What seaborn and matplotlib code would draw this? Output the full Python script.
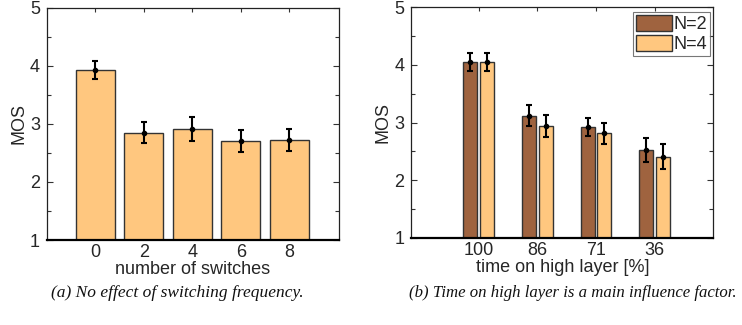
import numpy as np
import pandas as pd
import matplotlib
matplotlib.use("Agg")
import matplotlib.pyplot as plt
from matplotlib.ticker import MultipleLocator
import seaborn as sns

# (a) MOS versus number of switches
switches = ["0", "2", "4", "6", "8"]
mos_switch = [3.93, 2.85, 2.91, 2.71, 2.73]
ci_switch = [0.16, 0.18, 0.20, 0.19, 0.19]

# (b) MOS versus time on high layer, for N=2 and N=4
time_high = ["100", "86", "71", "36"]
groups = ["N=2", "N=4"]
mos_n2 = [4.05, 3.12, 2.92, 2.52]
ci_n2 = [0.15, 0.18, 0.16, 0.21]
mos_n4 = [4.05, 2.94, 2.81, 2.41]
ci_n4 = [0.15, 0.19, 0.19, 0.22]

light = "#FFC77F"
brown = "#9F633F"

sns.set_theme(style="white")
plt.rcParams["font.family"] = ["Liberation Sans", "DejaVu Sans"]

fig = plt.figure(figsize=(7.42, 3.25), dpi=100)
ax1 = fig.add_axes([0.0633, 0.2615, 0.3936, 0.7148])
ax2 = fig.add_axes([0.5543, 0.2686, 0.4070, 0.7086])

df1 = pd.DataFrame({"switches": switches, "MOS": mos_switch})
sns.barplot(data=df1, x="switches", y="MOS", color=light, saturation=1,
            width=0.8, errorbar=None, edgecolor="#333333", linewidth=1.0, ax=ax1)
ax1.errorbar(range(len(switches)), mos_switch, yerr=ci_switch, fmt="o",
             color="black", ms=3, elinewidth=1.5, capsize=2.5, capthick=1.5)
ax1.set_xlim(-1, 5.03)

df2 = pd.DataFrame({
    "time": time_high * 2,
    "group": [groups[0]] * len(time_high) + [groups[1]] * len(time_high),
    "MOS": mos_n2 + mos_n4,
})
sns.barplot(data=df2, x="time", y="MOS", hue="group", hue_order=groups,
            palette=[brown, light], saturation=1, width=0.57, gap=0.15,
            errorbar=None, edgecolor="#333333", linewidth=1.0, ax=ax2)
# error bars placed at the centres of the drawn bars
bars = [p for p in ax2.patches if p.get_height() > 0][: 2 * len(time_high)]
for p, m, c in zip(bars, mos_n2 + mos_n4, ci_n2 + ci_n4):
    ax2.errorbar(p.get_x() + p.get_width() / 2, m, yerr=c, fmt="o",
                 color="black", ms=3, elinewidth=1.5, capsize=2.5, capthick=1.5)
ax2.set_xlim(-1.15, 4.0)

leg = ax2.legend(loc="upper right", frameon=True, fancybox=False,
                 handlelength=1.95, handleheight=0.95, handletextpad=0.08,
                 borderpad=0.18, labelspacing=0.08, borderaxespad=0.0,
                 fontsize=13, bbox_to_anchor=(0.989, 0.979))
leg.get_frame().set_edgecolor("#555555")
leg.get_frame().set_linewidth(0.8)

for ax, xl in [(ax1, "number of switches"), (ax2, "time on high layer [%]")]:
    ax.set_ylim(1, 5)
    ax.yaxis.set_major_locator(MultipleLocator(1))
    ax.yaxis.set_minor_locator(MultipleLocator(0.5))
    ax.set_ylabel("MOS", fontsize=13, labelpad=2)
    ax.set_xlabel(xl, fontsize=13, labelpad=0)
    ax.tick_params(axis="both", which="both", direction="in",
                   left=True, right=True, top=True, bottom=False,
                   labelsize=13, color="#333333", width=0.8)
    ax.tick_params(axis="y", which="major", length=4)
    ax.tick_params(axis="y", which="minor", length=3)
    ax.tick_params(axis="x", which="major", length=3, pad=3)
    ax.tick_params(axis="y", pad=5)
    for s in ["left", "right", "top"]:
        ax.spines[s].set_color("#222222")
        ax.spines[s].set_linewidth(0.9)
    ax.spines["bottom"].set_color("black")
    ax.spines["bottom"].set_linewidth(1.6)
    ax.set_facecolor("white")

cap_font = dict(family=["Liberation Serif", "DejaVu Serif"], style="italic",
                ha="center", va="center", color="#111111")
fig.text(0.239, 0.098, "(a) No effect of switching frequency.", fontsize=12.5, **cap_font)
fig.text(0.772, 0.098, "(b) Time on high layer is a main influence factor.", fontsize=12.1, **cap_font)

fig.savefig("out.png", dpi=100, facecolor="white")
